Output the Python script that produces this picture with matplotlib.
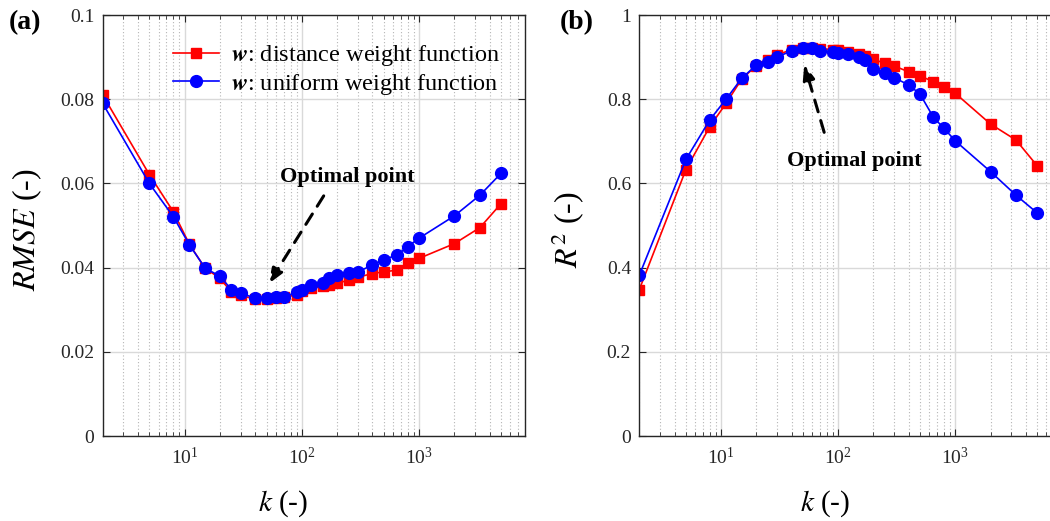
import matplotlib

matplotlib.use("Agg")
import matplotlib.pyplot as plt
from matplotlib.ticker import LogLocator, NullFormatter, FixedLocator

plt.rcParams["font.family"] = ["Liberation Serif", "DejaVu Serif"]
plt.rcParams["mathtext.fontset"] = "stix"

# neighbourhood size k and the two scores for each weight function
k_values = [2, 5, 8, 11, 15, 20, 25, 30, 40, 50, 60, 70, 90, 100, 120, 150,
            170, 200, 250, 300, 400, 500, 650, 800, 1000, 2000, 3300, 5000]

rmse_distance = [0.0810, 0.0621, 0.0533, 0.0455, 0.0398, 0.0375, 0.0342, 0.0334,
                 0.0325, 0.0325, 0.0328, 0.0330, 0.0335, 0.0345, 0.0351, 0.0356,
                 0.0359, 0.0363, 0.0370, 0.0377, 0.0386, 0.0390, 0.0394, 0.0412,
                 0.0422, 0.0457, 0.0495, 0.0552]
rmse_uniform = [0.0790, 0.0600, 0.0521, 0.0454, 0.0398, 0.0380, 0.0348, 0.0340,
                0.0327, 0.0327, 0.0331, 0.0331, 0.0341, 0.0347, 0.0359, 0.0364,
                0.0375, 0.0382, 0.0388, 0.0390, 0.0406, 0.0419, 0.0430, 0.0450,
                0.0470, 0.0523, 0.0572, 0.0624]

r2_distance = [0.348, 0.633, 0.735, 0.790, 0.848, 0.880, 0.893, 0.905, 0.918,
               0.922, 0.922, 0.920, 0.918, 0.916, 0.912, 0.907, 0.902, 0.895,
               0.885, 0.879, 0.865, 0.855, 0.842, 0.830, 0.814, 0.741, 0.703,
               0.642]
r2_uniform = [0.382, 0.657, 0.751, 0.800, 0.850, 0.881, 0.889, 0.900, 0.915,
              0.921, 0.921, 0.915, 0.913, 0.910, 0.907, 0.901, 0.893, 0.872,
              0.863, 0.851, 0.834, 0.812, 0.757, 0.731, 0.701, 0.628, 0.572,
              0.530]

label_distance = r"$\mathbfit{w}$: distance weight function"
label_uniform = r"$\mathbfit{w}$: uniform weight function"

AX_COLOR = "#262626"


def style_axes(ax, yticks, ylim):
    ax.set_xscale("log")
    ax.set_xlim(2, 8000)
    ax.set_ylim(*ylim)
    ax.yaxis.set_major_locator(FixedLocator(yticks))
    ax.set_yticklabels([f"{t:g}" for t in yticks])
    ax.xaxis.set_major_locator(LogLocator(base=10, numticks=10))
    ax.xaxis.set_minor_locator(LogLocator(base=10, subs=range(2, 10), numticks=10))
    ax.xaxis.set_minor_formatter(NullFormatter())
    ax.grid(True, which="major", color="#d9d9d9", linewidth=1.0)
    ax.grid(True, which="minor", axis="x", color="#b5b5b5", linestyle=(0, (1, 2)), linewidth=0.8)
    ax.set_axisbelow(True)
    ax.tick_params(which="both", direction="in", top=True, right=True, colors=AX_COLOR)
    ax.tick_params(which="major", length=5, width=0.8)
    ax.tick_params(which="minor", length=3, width=0.6)
    ax.tick_params(axis="y", labelsize=14, pad=6)
    ax.tick_params(axis="x", labelsize=14, pad=8)
    for spine in ax.spines.values():
        spine.set_color(AX_COLOR)
        spine.set_linewidth(1.0)


fig = plt.figure(figsize=(10.5, 5.21), dpi=100)
ax_a = fig.add_axes([0.0978, 0.1631, 0.4022, 0.8081])
ax_b = fig.add_axes([0.6089, 0.1631, 0.4016, 0.8081])

# (a) RMSE
ax_a.plot(k_values, rmse_distance, color="#ff0000", marker="s", markersize=6.5,
          linewidth=1.2, label=label_distance)
ax_a.plot(k_values, rmse_uniform, color="#0000ff", marker="o", markersize=8.5,
          linewidth=1.2, label=label_uniform)
style_axes(ax_a, [0, 0.02, 0.04, 0.06, 0.08, 0.1], (0, 0.1))
ax_a.set_ylabel(r"$RMSE$ (-)", fontsize=23)
ax_a.yaxis.set_label_coords(-0.14, 0.49)
ax_a.set_xlabel(r"$k$ (-)", fontsize=21)
ax_a.xaxis.set_label_coords(0.427, -0.125)
ax_a.legend(loc="upper left", bbox_to_anchor=(0.115, 0.985), frameon=False,
            fontsize=17.5, handlelength=1.9, handletextpad=0.5, labelspacing=0.15)
ax_a.annotate("", xy=(50.6, 0.0356), xytext=(158, 0.0576),
              arrowprops=dict(arrowstyle="-|>,head_length=0.9,head_width=0.35",
                              linestyle=(0, (4, 3)), linewidth=2.2, color="black"))
ax_a.text(244, 0.0603, "Optimal point", fontsize=16, fontweight="bold",
          ha="center", va="baseline")

# (b) R2
ax_b.plot(k_values, r2_distance, color="#ff0000", marker="s", markersize=6.5,
          linewidth=1.2)
ax_b.plot(k_values, r2_uniform, color="#0000ff", marker="o", markersize=8.5,
          linewidth=1.2)
style_axes(ax_b, [0, 0.2, 0.4, 0.6, 0.8, 1.0], (0, 1))
ax_b.set_ylabel(r"$R^2$ (-)", fontsize=23)
ax_b.yaxis.set_label_coords(-0.125, 0.49)
ax_b.set_xlabel(r"$k$ (-)", fontsize=21)
ax_b.xaxis.set_label_coords(0.44, -0.125)
ax_b.annotate("", xy=(50.5, 0.889), xytext=(77, 0.715),
              arrowprops=dict(arrowstyle="-|>,head_length=0.9,head_width=0.35",
                              linestyle=(0, (4, 3)), linewidth=2.2, color="black"))
ax_b.text(137, 0.642, "Optimal point", fontsize=16, fontweight="bold",
          ha="center", va="baseline")

fig.text(0.024, 0.956, "(a)", fontsize=20, fontweight="bold", ha="center", va="center")
fig.text(0.549, 0.956, "(b)", fontsize=20, fontweight="bold", ha="center", va="center")

fig.savefig("out.png", dpi=100)
